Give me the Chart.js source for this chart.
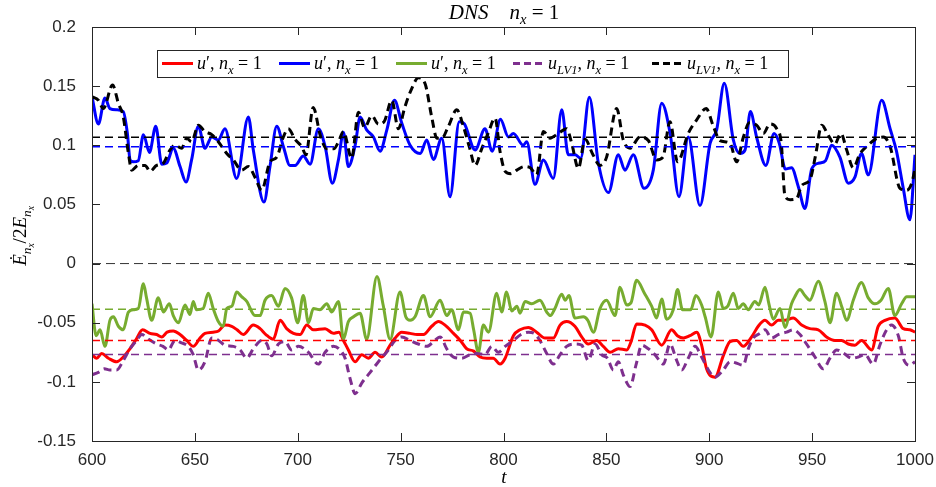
<!DOCTYPE html>
<html>
<head>
<meta charset="utf-8">
<script src="https://cdn.jsdelivr.net/npm/chart.js@4.4.1/dist/chart.umd.min.js"></script>
<style>
  html, body { margin: 0; padding: 0; background: #fff; }
</style>
</head>
<body>
<canvas id="chart" width="936" height="487"></canvas>
<script>
// Data: [t, value]
const red = [[600,-0.077],[602.3,-0.080],[604.7,-0.076],[608,-0.080],[612,-0.083],[615.2,-0.079],[618.5,-0.072],[621.5,-0.064],[624.6,-0.056],[628.2,-0.059],[631.4,-0.060],[633.9,-0.062],[636.5,-0.058],[639.5,-0.057],[642.8,-0.060],[646,-0.065],[649.2,-0.070],[652.5,-0.063],[654.9,-0.059],[658.9,-0.058],[661.5,-0.057],[664.6,-0.052],[667.9,-0.053],[670.5,-0.056],[673.5,-0.060],[678.4,-0.052],[681.7,-0.055],[684.5,-0.060],[688.1,-0.064],[691.4,-0.048],[694.6,-0.055],[697.9,-0.059],[701.1,-0.060],[704.4,-0.052],[707.6,-0.056],[713.3,-0.055],[717.3,-0.059],[720,-0.058],[722.2,-0.065],[724.6,-0.073],[727.9,-0.083],[731.1,-0.077],[734.3,-0.080],[737.6,-0.075],[740.8,-0.079],[744.9,-0.069],[747.3,-0.063],[750.5,-0.058],[754.6,-0.059],[758,-0.060],[761.1,-0.060],[765.1,-0.053],[768.4,-0.049],[771.6,-0.052],[775.7,-0.059],[779,-0.065],[782.1,-0.072],[785.5,-0.074],[788.6,-0.079],[791.9,-0.080],[795,-0.080],[798.3,-0.085],[800.8,-0.080],[804.8,-0.061],[808,-0.056],[812.1,-0.054],[816.1,-0.058],[820.2,-0.063],[824.2,-0.063],[827.5,-0.052],[830.7,-0.049],[834.7,-0.053],[838,-0.062],[841.2,-0.068],[845.3,-0.065],[848.5,-0.070],[851.8,-0.075],[855.8,-0.072],[859.9,-0.073],[862,-0.066],[864.7,-0.051],[868.8,-0.052],[872,-0.056],[876.9,-0.069],[881.7,-0.056],[884.5,-0.061],[887.4,-0.063],[890.6,-0.061],[893.9,-0.058],[896.3,-0.069],[898.7,-0.089],[902.8,-0.096],[906.8,-0.078],[910.1,-0.066],[913.3,-0.065],[916.5,-0.070],[920.6,-0.062],[923.8,-0.053],[927.1,-0.048],[930.3,-0.052],[933.5,-0.048],[936.8,-0.048],[940.8,-0.046],[944.9,-0.052],[948.9,-0.055],[953,-0.056],[957,-0.062],[961.1,-0.065],[964.3,-0.065],[967.6,-0.068],[970.8,-0.069],[974,-0.065],[978.9,-0.073],[982.1,-0.053],[985.4,-0.048],[990.2,-0.046],[994.3,-0.055],[997.5,-0.056],[1000,-0.058]];

const blue = [[600,0.141],[603.1,0.118],[606.3,0.140],[608.7,0.131],[612,0.130],[615.2,0.1285],[617.2,0.110],[618.5,0.0876],[620,0.086],[622.5,0.087],[625,0.109],[627.9,0.094],[631,0.116],[633.9,0.084],[636.3,0.085],[639.5,0.0975],[642.8,0.082],[645.7,0.069],[648.4,0.0876],[651.7,0.116],[654.9,0.0975],[658.2,0.107],[661.4,0.1045],[664.6,0.114],[670.3,0.072],[676,0.124],[678.4,0.096],[683.6,0.052],[686.5,0.082],[689.8,0.116],[693,0.099],[696.2,0.083],[698.7,0.083],[702.7,0.091],[706,0.084],[710,0.114],[713.3,0.099],[716.8,0.068],[719.8,0.088],[722.2,0.111],[724.6,0.082],[727.9,0.100],[730.3,0.124],[733.5,0.113],[736.8,0.107],[740,0.095],[743.3,0.113],[747,0.138],[750.5,0.119],[754.6,0.100],[759.5,0.093],[762.7,0.1045],[765.9,0.088],[770,0.106],[774,0.0565],[778.5,0.120],[781,0.118],[786.2,0.096],[791,0.114],[794.5,0.095],[798.5,0.122],[802.4,0.107],[804.8,0.110],[809.6,0.100],[811.3,0.103],[815.3,0.067],[819.4,0.0876],[824.2,0.072],[828.3,0.130],[831.5,0.092],[834.8,0.092],[837.5,0.089],[841.7,0.1407],[846.1,0.085],[851,0.060],[855.8,0.092],[859,0.079],[863.1,0.092],[868.3,0.0636],[872.8,0.079],[876.9,0.1356],[881,0.110],[885.3,0.0565],[889.8,0.107],[895.5,0.049],[900.4,0.1017],[903.6,0.113],[907.3,0.1525],[911.7,0.1045],[914.9,0.093],[917.4,0.096],[920,0.1285],[923,0.107],[927.5,0.083],[931.5,0.110],[934,0.102],[937,0.080],[940,0.081],[943.3,0.065],[946.5,0.0466],[949.8,0.080],[953.5,0.085],[956.5,0.087],[959.5,0.100],[963.5,0.090],[967.6,0.068],[970.8,0.073],[974,0.093],[977.3,0.075],[983.8,0.138],[987.9,0.114],[991,0.095],[994.3,0.0636],[997.5,0.037],[1000,0.092]];

const green = [[600,-0.034],[602,-0.061],[603.9,-0.056],[606.3,-0.070],[608.7,-0.048],[610.4,-0.045],[612.8,-0.053],[615.2,-0.056],[617.7,-0.041],[620.1,-0.039],[622.5,-0.038],[625,-0.017],[626.5,-0.029],[629,-0.048],[632.2,-0.029],[634.7,-0.041],[637.6,-0.034],[639.5,-0.044],[642,-0.050],[645.2,-0.035],[647.6,-0.043],[649.2,-0.032],[650.8,-0.039],[654,-0.038],[656.5,-0.025],[658.9,-0.038],[661.4,-0.049],[663.8,-0.053],[665.5,-0.038],[668,-0.036],[670.3,-0.024],[672.7,-0.028],[675.2,-0.032],[679.2,-0.044],[681.7,-0.044],[684.1,-0.031],[687.3,-0.027],[690.6,-0.036],[693.8,-0.021],[697,-0.029],[700,-0.050],[702.7,-0.027],[705.2,-0.050],[707.6,-0.038],[710.8,-0.039],[714.1,-0.034],[716.5,-0.041],[719.8,-0.032],[722.2,-0.064],[724.6,-0.049],[727.1,-0.045],[730.3,-0.042],[733.5,-0.064],[738.5,-0.011],[741.5,-0.035],[744.9,-0.064],[749.7,-0.024],[752.5,-0.045],[754.6,-0.048],[757,-0.045],[761.1,-0.027],[764.3,-0.045],[769.2,-0.031],[772.4,-0.044],[774.8,-0.039],[778.1,-0.056],[780.5,-0.041],[783.8,-0.042],[785.5,-0.056],[787.8,-0.075],[790.2,-0.052],[792.7,-0.058],[796.7,-0.025],[799.1,-0.041],[801.5,-0.024],[804,-0.040],[806.5,-0.036],[808,-0.042],[810.5,-0.032],[813.7,-0.034],[817.7,-0.031],[821,-0.041],[822.8,-0.044],[825,-0.038],[828.3,-0.026],[830,-0.031],[831.8,-0.027],[834.7,-0.046],[838.8,-0.045],[841,-0.048],[843.7,-0.058],[846.9,-0.038],[850.1,-0.031],[854.2,-0.044],[856.6,-0.020],[859.9,-0.035],[862,-0.033],[864.7,-0.014],[868.5,-0.025],[872,-0.036],[874.4,-0.046],[876.9,-0.030],[879.3,-0.047],[882.5,-0.039],[884.6,-0.022],[887,-0.039],[891,-0.039],[893.5,-0.027],[896.3,-0.035],[898,-0.045],[900.9,-0.062],[904.4,-0.024],[906.8,-0.038],[909,-0.036],[911.7,-0.025],[914.1,-0.038],[916.5,-0.034],[919,-0.039],[922.2,-0.032],[924,-0.035],[927.1,-0.020],[929,-0.034],[931.1,-0.047],[934.4,-0.038],[936.8,-0.054],[940,-0.034],[941.6,-0.028],[944.1,-0.022],[946.5,-0.027],[948.9,-0.031],[953,-0.015],[956.2,-0.032],[958.7,-0.050],[961.9,-0.025],[964.5,-0.037],[966.8,-0.048],[970,-0.031],[974,-0.016],[977.3,-0.029],[980.5,-0.034],[983.5,-0.031],[987,-0.021],[990.2,-0.044],[993.5,-0.034],[996,-0.028],[1000,-0.028]];

const purple = [[600,-0.094],[603.1,-0.092],[606,-0.089],[608.7,-0.090],[612,-0.090],[615.2,-0.082],[618.5,-0.072],[621.7,-0.065],[624.2,-0.060],[627.5,-0.064],[631.4,-0.068],[634.5,-0.070],[637.1,-0.073],[640.3,-0.065],[643.5,-0.067],[646.8,-0.070],[649.2,-0.077],[651.7,-0.090],[654.9,-0.083],[658.2,-0.063],[661.5,-0.065],[664.6,-0.069],[668.7,-0.070],[672,-0.073],[675.2,-0.080],[678.4,-0.072],[682.5,-0.065],[685,-0.068],[687.3,-0.078],[690.6,-0.068],[693.8,-0.066],[697,-0.073],[700.3,-0.070],[705.2,-0.075],[710,-0.085],[713.3,-0.075],[717.3,-0.070],[720,-0.072],[723,-0.080],[725.4,-0.097],[727.9,-0.110],[731.1,-0.101],[735.2,-0.092],[739.2,-0.083],[744.1,-0.073],[747.3,-0.065],[750.5,-0.062],[754.6,-0.065],[758.6,-0.068],[762.7,-0.070],[766,-0.066],[769.2,-0.062],[772.4,-0.072],[775.7,-0.079],[779.7,-0.080],[783.8,-0.077],[787,-0.076],[791,-0.077],[794.3,-0.070],[797.5,-0.075],[800.8,-0.070],[804.8,-0.065],[808.5,-0.060],[812.1,-0.058],[815,-0.059],[817.7,-0.065],[821,-0.076],[824.2,-0.085],[827.5,-0.077],[830.7,-0.070],[834.7,-0.068],[838,-0.069],[841.2,-0.082],[844.5,-0.068],[847.7,-0.077],[850.5,-0.080],[853.4,-0.090],[855.8,-0.083],[858.2,-0.094],[861.5,-0.104],[864.5,-0.085],[867.2,-0.069],[870.4,-0.072],[873.6,-0.077],[877.7,-0.085],[880.9,-0.068],[884.2,-0.082],[886.6,-0.090],[889.8,-0.080],[893.1,-0.070],[896.3,-0.079],[899.6,-0.090],[902.8,-0.096],[906.8,-0.090],[910.1,-0.083],[913,-0.084],[916.5,-0.086],[919,-0.072],[921.4,-0.063],[924.6,-0.059],[927.1,-0.056],[930.3,-0.063],[933.5,-0.060],[937.6,-0.058],[940.8,-0.056],[944.1,-0.060],[947.3,-0.068],[951.4,-0.079],[955.4,-0.089],[958.7,-0.080],[961.9,-0.073],[965.5,-0.076],[969.2,-0.080],[972.4,-0.079],[975.7,-0.077],[979.7,-0.085],[982.9,-0.069],[986.2,-0.056],[988.6,-0.052],[991.9,-0.061],[994.3,-0.080],[997.5,-0.086],[1000,-0.083]];

const black = [[600,0.141],[603.1,0.138],[605.5,0.131],[610,0.151],[612.8,0.1356],[615.2,0.124],[617.7,0.093],[619.3,0.079],[622.5,0.083],[625.8,0.083],[628.2,0.078],[631.4,0.083],[634.7,0.085],[637.9,0.096],[640.3,0.100],[643.6,0.0975],[646,0.106],[648.4,0.103],[651.7,0.117],[654.9,0.1116],[658.2,0.109],[661.4,0.103],[665.5,0.093],[668.7,0.0876],[672.7,0.079],[676,0.082],[679.2,0.073],[682.5,0.062],[686.5,0.086],[689.8,0.090],[693,0.107],[695.4,0.114],[698.7,0.105],[701.9,0.099],[704,0.092],[707.5,0.132],[711,0.108],[714.1,0.097],[717.5,0.097],[719.8,0.103],[722.2,0.1116],[726.2,0.089],[729.5,0.128],[732.5,0.115],[736,0.125],[739.2,0.118],[742,0.120],[745.7,0.138],[748.9,0.114],[752,0.132],[755.4,0.148],[758.6,0.157],[761.9,0.152],[765.1,0.124],[767.6,0.106],[770,0.106],[773.2,0.116],[777.3,0.130],[780.5,0.116],[783.5,0.098],[786.2,0.083],[789.4,0.097],[792.5,0.110],[795.9,0.123],[798.3,0.095],[800.8,0.078],[803.5,0.076],[806.5,0.079],[810,0.082],[813,0.081],[816.1,0.075],[819.4,0.1116],[822.6,0.106],[826.6,0.110],[830.7,0.114],[833.1,0.102],[836.4,0.0805],[839.6,0.105],[843.5,0.092],[846.9,0.083],[850.1,0.090],[855,0.131],[858.2,0.1045],[861.5,0.0975],[866.3,0.107],[870.4,0.104],[874.4,0.0876],[877.5,0.090],[880.9,0.120],[884.6,0.086],[889.8,0.110],[893.9,0.1215],[898.5,0.131],[902,0.116],[905.2,0.104],[910.1,0.1017],[913.3,0.086],[916.6,0.107],[919.5,0.119],[923,0.117],[926.3,0.110],[929.5,0.118],[932.8,0.114],[935,0.102],[936.8,0.057],[939.3,0.054],[942.5,0.055],[944.9,0.066],[949,0.071],[951.5,0.090],[954.7,0.117],[958,0.108],[961,0.101],[964,0.110],[966.8,0.096],[970,0.081],[973.3,0.093],[976.5,0.099],[980.6,0.105],[984.6,0.107],[987.9,0.099],[992.7,0.0636],[996,0.062],[998.4,0.068],[1000,0.080]];

// time averages (dashed horizontal lines)
const seriesMeans = [-0.065, 0.0988, -0.0387, -0.0769, 0.1068];
const seriesColors = ['#ff0000', '#0000ff', '#77ac30', '#7e2f8e', '#000000'];
const xRange = [600, 1000];
const xTicks = [600, 650, 700, 750, 800, 850, 900, 950, 1000];
const yTicks = [-0.15, -0.1, -0.05, 0, 0.05, 0.1, 0.15, 0.2];

const AXIS_COLOR = '#262626';
const MATH_FONT = '"Liberation Serif", "DejaVu Serif", serif';

const toPoints = arr => arr.map(p => ({ x: p[0], y: p[1] }));
const flatLine = v => xRange.map(x => ({ x: x, y: v }));

// little math-text renderer: [text, kind] with kind i=italic, r=roman, s=subscript, ss=sub-subscript
const MATH_KIND = {
    i: { scale: 1, shift: 0, style: 'italic ' },
    r: { scale: 1, shift: 0, style: '' },
    s: { scale: 0.7, shift: 0.25, style: 'italic ' },
    ss: { scale: 0.5, shift: 0.42, style: 'italic ' }
};
function setMathFont(ctx, kind, size) {
    const k = MATH_KIND[kind];
    ctx.font = k.style + (size * k.scale).toFixed(1) + 'px ' + MATH_FONT;
}
function drawMath(ctx, parts, x, y, size, align) {
    let w = 0;
    parts.forEach(([t, k]) => { setMathFont(ctx, k, size); w += ctx.measureText(t).width; });
    let cx = align === 'center' ? x - w / 2 : x;
    ctx.textAlign = 'left';
    ctx.textBaseline = 'alphabetic';
    parts.forEach(([t, k]) => {
        setMathFont(ctx, k, size);
        ctx.fillText(t, cx, y + size * MATH_KIND[k].shift);
        cx += ctx.measureText(t).width;
    });
    return w;
}

const primeLabel = [['u', 'i'], ['\u2032', 'r'], [', ', 'r'], ['n', 'i'], ['x', 's'], [' = 1', 'r']];
const lvLabel = [['u', 'i'], ['LV1', 's'], [', ', 'r'], ['n', 'i'], ['x', 's'], [' = 1', 'r']];
const legendItems = [
    { color: seriesColors[0], dash: [], label: primeLabel, x: 162 },
    { color: seriesColors[1], dash: [], label: primeLabel, x: 279 },
    { color: seriesColors[2], dash: [], label: primeLabel, x: 396 },
    { color: seriesColors[3], dash: [7, 4], label: lvLabel, x: 513 },
    { color: seriesColors[4], dash: [7, 4], label: lvLabel, x: 652 }
];

const decorations = {
    id: 'decorations',
    afterDatasetsDraw(chart) {
        const ctx = chart.ctx;
        const a = chart.chartArea;
        const xs = chart.scales.x, ys = chart.scales.y;
        ctx.save();
        // axes box
        ctx.strokeStyle = AXIS_COLOR;
        ctx.lineWidth = 1;
        ctx.setLineDash([]);
        ctx.strokeRect(Math.round(a.left) + 0.5, Math.round(a.top) + 0.5,
            Math.round(a.right - a.left), Math.round(a.bottom - a.top));
        // inward ticks on all four sides
        const tl = 8;
        ctx.beginPath();
        xTicks.forEach(v => {
            const px = Math.round(xs.getPixelForValue(v)) + 0.5;
            ctx.moveTo(px, a.bottom); ctx.lineTo(px, a.bottom - tl);
            ctx.moveTo(px, a.top); ctx.lineTo(px, a.top + tl);
        });
        yTicks.forEach(v => {
            const py = Math.round(ys.getPixelForValue(v)) + 0.5;
            ctx.moveTo(a.left, py); ctx.lineTo(a.left + tl, py);
            ctx.moveTo(a.right, py); ctx.lineTo(a.right - tl, py);
        });
        ctx.stroke();

        // legend box
        ctx.fillStyle = '#ffffff';
        ctx.fillRect(157, 50, 631, 27);
        ctx.strokeStyle = '#262626';
        ctx.strokeRect(157.5, 50.5, 631, 27);
        legendItems.forEach(it => {
            ctx.strokeStyle = it.color;
            ctx.lineWidth = 3;
            ctx.setLineDash(it.dash);
            ctx.beginPath();
            ctx.moveTo(it.x, 63.5); ctx.lineTo(it.x + 31, 63.5);
            ctx.stroke();
            ctx.fillStyle = '#000';
            drawMath(ctx, it.label, it.x + 35, 69, 18, 'left');
        });
        ctx.setLineDash([]);

        // title
        ctx.fillStyle = '#000';
        drawMath(ctx, [['DNS', 'i'], ['    ', 'r'], ['n', 'i'], ['x', 's'], [' = 1', 'r']], 504, 19, 21, 'center');
        // x label
        drawMath(ctx, [['t', 'i']], 504, 483, 19, 'center');
        // y label
        ctx.translate(26, 236);
        ctx.rotate(-Math.PI / 2);
        drawMath(ctx, [['\u0116', 'i'], ['n', 's'], ['x', 'ss'], ['/2', 'r'], ['E', 'i'], ['n', 's'], ['x', 'ss']], 0, 0, 19, 'center');
        ctx.restore();
    }
};

const mainLine = (label, data, color, dash, order) => ({
    label: label,
    data: toPoints(data),
    borderColor: color,
    borderWidth: 3,
    borderDash: dash,
    pointRadius: 0,
    cubicInterpolationMode: 'monotone',
    fill: false,
    order: order
});
const meanLine = (v, color) => ({
    data: flatLine(v),
    borderColor: color,
    borderWidth: 1.5,
    borderDash: [8, 5],
    pointRadius: 0,
    fill: false,
    order: 1
});

new Chart(document.getElementById('chart'), {
    type: 'line',
    data: {
        datasets: [
            mainLine('red', red, seriesColors[0], [], 10),
            mainLine('blue', blue, seriesColors[1], [], 9),
            mainLine('green', green, seriesColors[2], [], 8),
            mainLine('purple', purple, seriesColors[3], [8, 5], 7),
            mainLine('black', black, seriesColors[4], [8, 5], 6),
            ...seriesMeans.map((m, i) => meanLine(m, seriesColors[i])),
            {
                data: flatLine(0),
                borderColor: '#333333',
                borderWidth: 1,
                borderDash: [9, 5],
                pointRadius: 0,
                order: 0
            }
        ]
    },
    options: {
        responsive: false,
        animation: false,
        layout: { padding: { top: 27, right: 21, left: 0, bottom: 0 } },
        plugins: {
            legend: { display: false },
            title: { display: false },
            tooltip: { enabled: false }
        },
        scales: {
            x: {
                type: 'linear',
                min: 600,
                max: 1000,
                grid: { display: false },
                border: { display: false },
                afterFit: s => { s.height = 46; s.paddingLeft = 0; s.paddingRight = 0; },
                afterBuildTicks: s => { s.ticks = xTicks.map(v => ({ value: v })); },
                ticks: {
                    color: AXIS_COLOR,
                    padding: 1,
                    maxRotation: 0,
                    font: { family: '"Liberation Sans", Arial, sans-serif', size: 17 },
                    callback: v => String(v)
                }
            },
            y: {
                min: -0.15,
                max: 0.2,
                grid: { display: false },
                border: { display: false },
                afterFit: s => { s.width = 92; s.paddingTop = 0; s.paddingBottom = 0; },
                afterBuildTicks: s => { s.ticks = yTicks.map(v => ({ value: v })); },
                ticks: {
                    color: AXIS_COLOR,
                    padding: 8,
                    font: { family: '"Liberation Sans", Arial, sans-serif', size: 17 },
                    callback: v => String(Math.round(v * 100) / 100)
                }
            }
        }
    },
    plugins: [decorations]
});
</script>
</body>
</html>
